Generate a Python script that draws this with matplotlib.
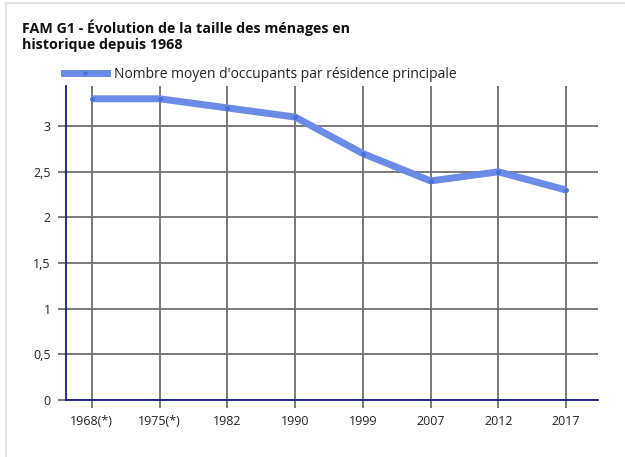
import matplotlib.pyplot as plt
from matplotlib.lines import Line2D

plt.rcParams['font.family'] = ['Open Sans', 'DejaVu Sans']

years = ["1968(*)", "1975(*)", "1982", "1990", "1999", "2007", "2012", "2017"]
occupants = [3.3, 3.3, 3.2, 3.1, 2.7, 2.4, 2.5, 2.3]
yticks = [0, 0.5, 1, 1.5, 2, 2.5, 3]
ylabels = ["0", "0,5", "1", "1,5", "2", "2,5", "3"]

line_col = "#6a8be6"
grid_col = "#707070"
axis_col = "#1a1a8c"

fig = plt.figure(figsize=(6.25, 4.57), dpi=100)
ax = fig.add_axes([66 / 625, 1 - 400 / 457, (598 - 66) / 625, (400 - 86) / 457])

x = list(range(len(years)))
ax.plot(x, occupants, color=line_col, lw=5, solid_capstyle='butt', zorder=3)
ax.plot(x, occupants, ls='none', marker='o', ms=2.5, color="#4a6fd8", zorder=4)

ax.set_xlim(-0.38, 7.47)
ax.set_ylim(0, 3.44)
ax.set_xticks(x)
ax.set_xticklabels(years)
ax.set_yticks(yticks)
ax.set_yticklabels(ylabels)

ax.grid(True, color=grid_col, lw=1.3, zorder=1)
ax.tick_params(axis='both', colors=grid_col, width=1.3, length=6, labelsize=9,
               labelcolor="#222222", pad=5)
for s in ['top', 'right']:
    ax.spines[s].set_visible(False)
for s in ['left', 'bottom']:
    ax.spines[s].set_color(axis_col)
    ax.spines[s].set_linewidth(1.3)
    ax.spines[s].set_zorder(5)

fig.text(22 / 625, 1 - 20 / 457, "FAM G1 - Évolution de la taille des ménages en\nhistorique depuis 1968",
         fontsize=10.3, fontweight='bold', color="#111111", va='top', linespacing=1.1)

handle = Line2D([], [], color=line_col, lw=5, marker='o', ms=2, mfc="#4a6fd8", mec="#4a6fd8")
fig.legend([handle], ["Nombre moyen d'occupants par résidence principale"],
           loc='center left', bbox_to_anchor=(58 / 625, 1 - 74 / 457), frameon=False,
           fontsize=10, handlelength=3.1, handletextpad=0.55, borderaxespad=0,
           labelcolor="#222222")

# light frame around the panel
fig.add_artist(Line2D([6 / 625, 6 / 625], [0, 1 - 3 / 457], color="#e3e3e3", lw=1.5))
fig.add_artist(Line2D([6 / 625, 1], [1 - 3 / 457, 1 - 3 / 457], color="#e3e3e3", lw=1.5))

fig.savefig("out.png", dpi=100)
